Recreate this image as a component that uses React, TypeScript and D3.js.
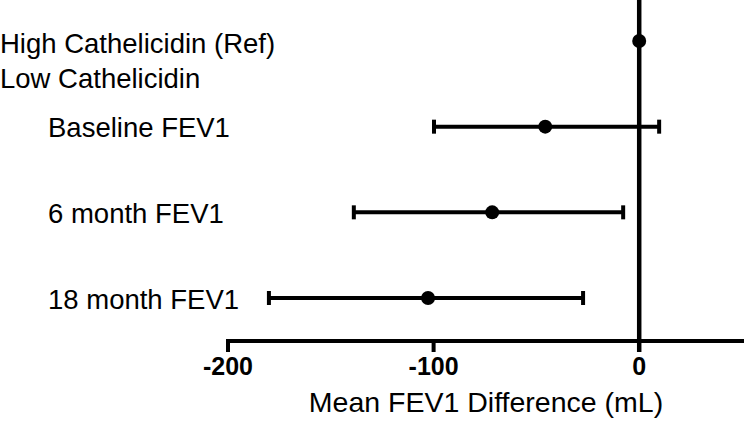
import React from "react";
import * as d3 from "d3";

const categories = ["High Cathelicidin (Ref)", "Baseline FEV1", "6 month FEV1", "18 month FEV1"];
const means = [0, -45.7, -71.5, -102.7];
const lower = [null, -99.8, -138.8, -180.1];
const upper = [null, 9.7, -7.8, -27.3];
const groupLabel = "Low Cathelicidin";
const xTicks = [-200, -100, 0];
const xTitle = "Mean FEV1 Difference (mL)";

const W = 744;
const H = 422;

export default function App() {
  const x = d3.scaleLinear().domain([-200, 50]).range([228, 742]);
  const y = d3.scalePoint<string>().domain(categories).range([41, 298]);
  const axisY = 341;
  const font = "Arial, 'Liberation Sans', sans-serif";

  return (
    <svg width={W} height={H} style={{ position: "absolute", left: 0, top: 0, background: "#fff" }}>
      {/* zero reference line */}
      <line x1={x(0)} x2={x(0)} y1={0} y2={axisY} stroke="#000" strokeWidth={4.5} />
      {/* x axis */}
      <line x1={x(-200) - 2} x2={W} y1={axisY} y2={axisY} stroke="#000" strokeWidth={4} />
      {xTicks.map((t) => (
        <g key={t}>
          <line x1={x(t)} x2={x(t)} y1={axisY} y2={axisY + 11} stroke="#000" strokeWidth={t === 0 ? 4.5 : 4} />
          <text x={x(t)} y={375} textAnchor="middle" fontFamily={font} fontWeight="bold" fontSize={25} fill="#000">
            {t}
          </text>
        </g>
      ))}
      <text x={486} y={412} textAnchor="middle" fontFamily={font} fontSize={28.5} fill="#000">
        {xTitle}
      </text>
      {/* labels */}
      {categories.map((c, i) => (
        <text
          key={c}
          x={i === 0 ? 0 : 48}
          y={(y(c) as number) + (i === 0 ? 12 : 10.5)}
          fontFamily={font}
          fontSize={27.5}
          fill="#000"
        >
          {c}
        </text>
      ))}
      <text x={0} y={88} fontFamily={font} fontSize={27.5} fill="#000">
        {groupLabel}
      </text>
      {/* error bars and points */}
      {categories.map((c, i) => {
        const cy = y(c) as number;
        const lo = lower[i];
        const hi = upper[i];
        return (
          <g key={c}>
            {lo !== null && hi !== null && (
              <g stroke="#000">
                <line x1={x(lo)} x2={x(hi)} y1={cy} y2={cy} strokeWidth={4} />
                <line x1={x(lo)} x2={x(lo)} y1={cy - 7} y2={cy + 7} strokeWidth={4} />
                <line x1={x(hi)} x2={x(hi)} y1={cy - 7} y2={cy + 7} strokeWidth={4} />
              </g>
            )}
            <circle cx={x(means[i])} cy={cy} r={7} fill="#000" />
          </g>
        );
      })}
    </svg>
  );
}
